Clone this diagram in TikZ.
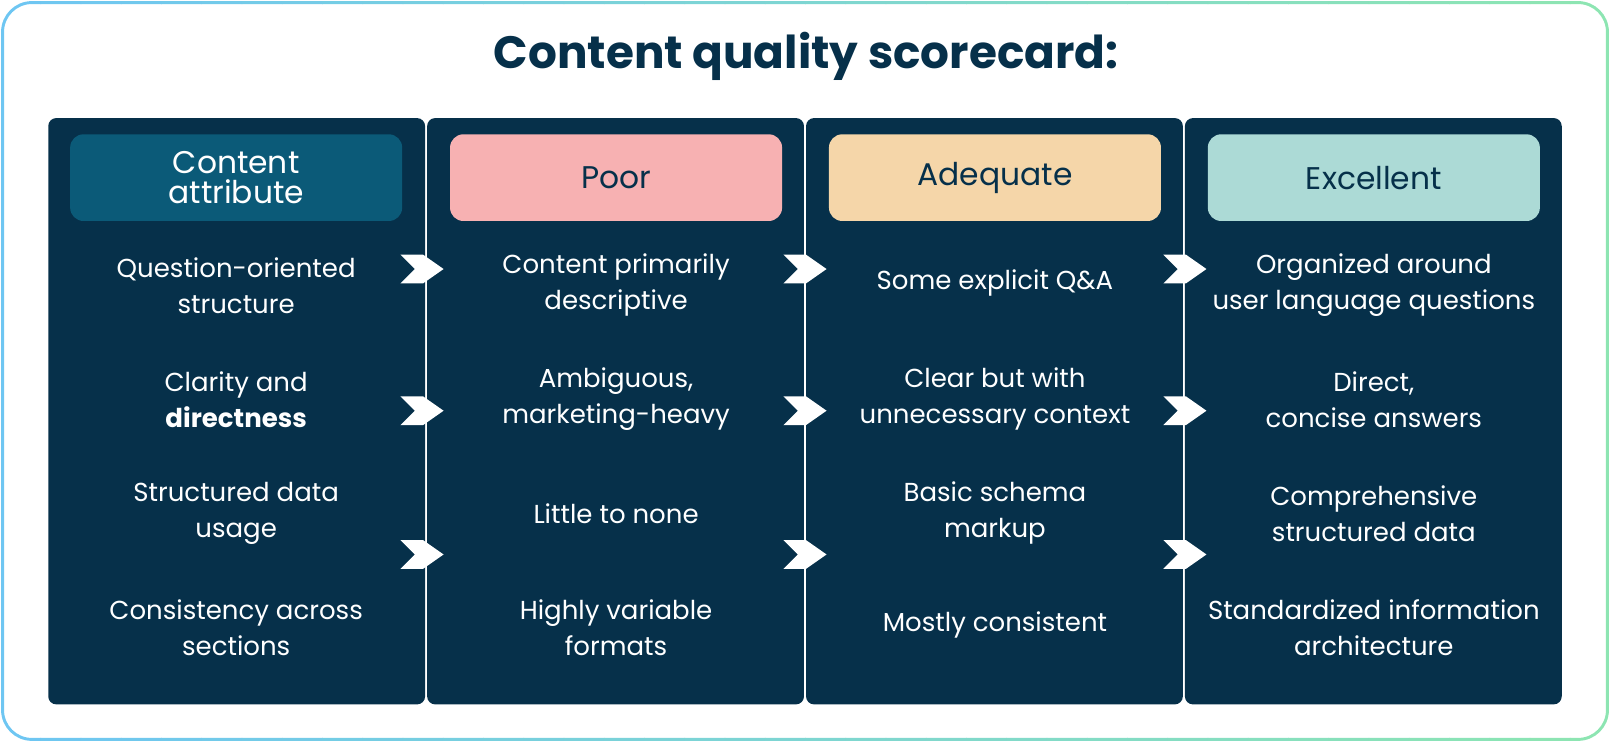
\documentclass[tikz,border=0pt]{standalone}
\usepackage{fontspec}
\setmainfont{Poppins}
\definecolor{navy}{HTML}{06304A}
\definecolor{hdr}{HTML}{0B5A78}
\definecolor{poor}{HTML}{F7B1B2}
\definecolor{adeq}{HTML}{F5D6A9}
\definecolor{exc}{HTML}{ACDAD6}
\definecolor{bl}{HTML}{6EC6F2}
\definecolor{gr}{HTML}{8EE6B0}
\begin{document}
\begin{tikzpicture}[x=0.77pt,y=-0.77pt,
 panel/.style={fill=navy,rounded corners=6pt},
 pill/.style={rounded corners=10pt,minimum width=249pt,minimum height=65pt,font=\fontsize{23.5}{24}\selectfont,align=center},
 cell/.style={text=white,font=\fontsize{19.5}{27}\selectfont,align=center},
 chev/.style={fill=white}]
\useasboundingbox (0,0) rectangle (1568,722.6);
\foreach \i in {0,...,39}{
 \pgfmathsetmacro{\p}{100-\i*2.5}
 \begin{scope}
 \clip (\i*39.2,0) rectangle (\i*39.2+40,722.6);
 \draw[bl!\p!gr,line width=2.2pt,rounded corners=22pt] (2.5,2.5) rectangle (1565.5,720.1);
 \end{scope}}
\node (title) at (785,55) {\fontsize{34}{36}\selectfont\color{navy}\textbf{Content quality scorecard:}};
\foreach \x in {47,416,785,1154}{\fill[panel] (\x,115) rectangle (\x+367,686);}
\node[pill,fill=hdr,text=white] (h1) at (230,173) {Content\\[-2pt]attribute};
\node[pill,fill=poor,text=navy] (h2) at (600,173) {Poor};
\node[pill,fill=adeq,text=navy] (h3) at (969,173) {Adequate};
\node[pill,fill=exc,text=navy] (h4) at (1338,173) {Excellent};
\node[cell] (a1) at (230,278) {Question-oriented\\structure};
\node[cell] (a2) at (230,389) {Clarity and\\\textbf{directness}};
\node[cell] (a3) at (230,500) {Structured data\\usage};
\node[cell] (a4) at (230,611) {Consistency across\\sections};
\node[cell] (b1) at (600,278) {Content primarily\\descriptive};
\node[cell] (b2) at (600,389) {Ambiguous,\\marketing-heavy};
\node[cell] (b3) at (600,500) {Little to none};
\node[cell] (b4) at (600,611) {Highly variable\\formats};
\node[cell] (c1) at (969,276) {Some explicit Q\&A};
\node[cell] (c2) at (969,389) {Clear but with\\unnecessary context};
\node[cell] (c3) at (969,500) {Basic schema\\markup};
\node[cell] (c4) at (969,609) {Mostly consistent};
\node[cell] (d1) at (1338,278) {Organized around\\user language questions};
\node[cell] (d2) at (1338,389) {Direct,\\concise answers};
\node[cell] (d3) at (1338,500) {Comprehensive\\structured data};
\node[cell] (d4) at (1338,611) {Standardized information\\architecture};
\foreach \x in {411,784,1154}{\foreach \y in {262,400,540}{
 \fill[chev] (\x-21,\y-14) -- (\x+1,\y-14) -- (\x+21,\y) -- (\x+1,\y+14) -- (\x-21,\y+14) -- (\x-7,\y) -- cycle;}}
\end{tikzpicture}
\end{document}
